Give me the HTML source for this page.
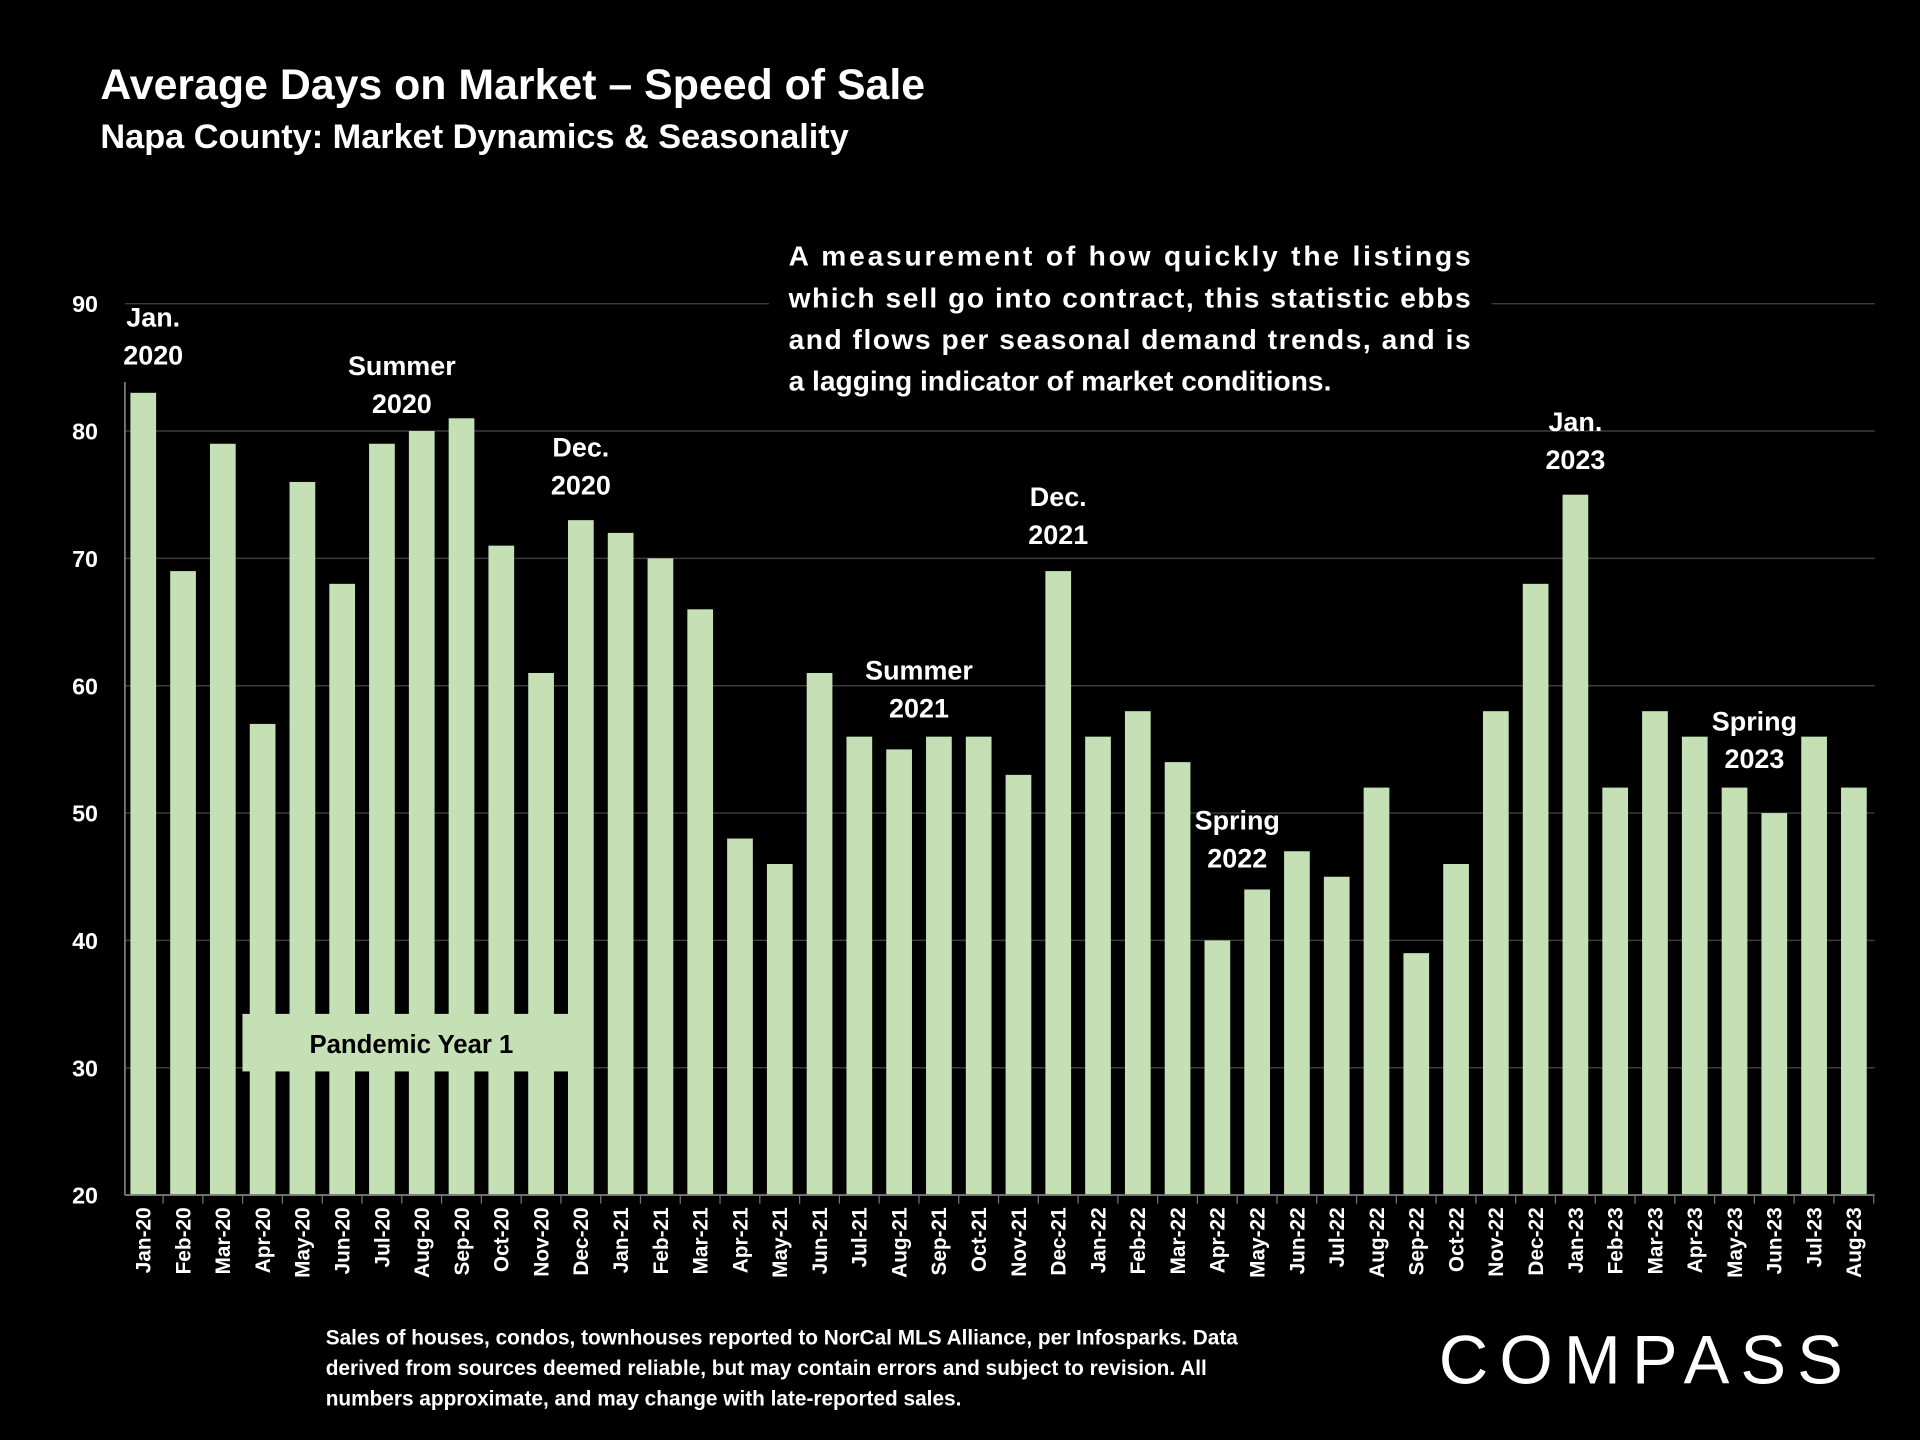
<!DOCTYPE html>
<html><head><meta charset="utf-8"><style>
html,body{margin:0;padding:0;background:#000;}
svg{display:block;}
text{font-family:"Liberation Sans",sans-serif;font-weight:bold;}
</style></head><body>
<svg id="chart" width="1920" height="1440" viewBox="0 0 1568 1176" xmlns="http://www.w3.org/2000/svg">
<rect width="1568" height="1176" fill="#000"/>
<text x="82" y="81" fill="#fff" font-size="35">Average Days on Market – Speed of Sale</text>
<text x="82" y="121" fill="#fff" font-size="28">Napa County: Market Dynamics &amp; Seasonality</text>
<g id="grid"></g>
<g id="yaxis"></g>
<g id="bars"></g>
<g id="xaxis"></g>
<g fill="#fff" font-size="23">
<rect x="628" y="190" width="590" height="140" fill="#000"/>
<text x="644" y="217" textLength="557" lengthAdjust="spacing">A measurement of how quickly the listings</text>
<text x="644" y="251" textLength="557" lengthAdjust="spacing">which sell go into contract, this statistic ebbs</text>
<text x="644" y="285" textLength="557" lengthAdjust="spacing">and flows per seasonal demand trends, and is</text>
<text x="644" y="319">a lagging indicator of market conditions.</text>
</g>
<g id="annos" fill="#fff" font-size="22" text-anchor="middle"></g>
<g>
<rect x="198" y="828" width="268" height="47" fill="#c5e0b4"/>
<text x="336" y="860" fill="#000" font-size="21" text-anchor="middle">Pandemic Year 1</text>
</g>
<g fill="#fff" font-size="17">
<text x="266" y="1098">Sales of houses, condos, townhouses reported to NorCal MLS Alliance, per Infosparks. Data</text>
<text x="266" y="1123">derived from sources deemed reliable, but may contain errors and subject to revision. All</text>
<text x="266" y="1148">numbers approximate, and may change with late-reported sales.</text>
</g>
<text x="1175" y="1130" fill="#fff" font-size="56" textLength="330" lengthAdjust="spacing" style="font-weight:normal">COMPASS</text>
<script>
const categories=["Jan-20","Feb-20","Mar-20","Apr-20","May-20","Jun-20","Jul-20","Aug-20","Sep-20","Oct-20","Nov-20","Dec-20","Jan-21","Feb-21","Mar-21","Apr-21","May-21","Jun-21","Jul-21","Aug-21","Sep-21","Oct-21","Nov-21","Dec-21","Jan-22","Feb-22","Mar-22","Apr-22","May-22","Jun-22","Jul-22","Aug-22","Sep-22","Oct-22","Nov-22","Dec-22","Jan-23","Feb-23","Mar-23","Apr-23","May-23","Jun-23","Jul-23","Aug-23"];
const values=[83,69,79,57,76,68,79,80,81,71,61,73,72,70,66,48,46,61,56,55,56,56,53,69,56,58,54,40,44,47,45,52,39,46,58,68,75,52,58,56,52,50,56,52];
const yTicks=[20,30,40,50,60,70,80,90];
const annotations=[["Jan.","2020",0.25,88.2],["Summer","2020",6.5,84.4],["Dec.","2020",11,78.0],["Dec.","2021",23,74.1],["Summer","2021",19.5,60.5],["Spring","2022",27.5,48.7],["Jan.","2023",36,80.0],["Spring","2023",40.5,56.5]];
const NS="http://www.w3.org/2000/svg";
const y=v=>976-(v-20)*10.4;
const x=i=>117+i*(1397/43);
function mk(t,a,p){const e=document.createElementNS(NS,t);for(const k in a)e.setAttribute(k,a[k]);p.appendChild(e);return e;}
const grid=document.getElementById('grid'),ya=document.getElementById('yaxis'),bars=document.getElementById('bars'),xa=document.getElementById('xaxis'),an=document.getElementById('annos');
yTicks.forEach(t=>{
 if(t>20){const l=mk('line',{x1:102,x2:1531,y1:y(t),y2:y(t),stroke:'#3c3c3c','stroke-width':1.2},grid);
 
 }
 const tx=mk('text',{x:80,y:y(t)+7,fill:'#fff','font-size':19,'text-anchor':'end'},ya);tx.textContent=t;
 
 
});
mk('line',{x1:102,x2:1531,y1:976,y2:976,stroke:'#777','stroke-width':1.5},xa);
mk('line',{x1:102,x2:102,y1:312,y2:976,stroke:'#777','stroke-width':1.5},xa);
values.forEach((v,i)=>{
 const r=mk('rect',{x:x(i)-10.5,y:y(v),width:21,height:976-y(v),fill:'#c5e0b4'},bars);
 
 
 mk('line',{x1:x(i)+16.2,x2:x(i)+16.2,y1:976,y2:983,stroke:'#777'},xa);
 const t=mk('text',{transform:`translate(${x(i)+6},986) rotate(-90)`,fill:'#fff','font-size':17,'text-anchor':'end'},xa);t.textContent=categories[i];
 
 
});
annotations.forEach(a=>{
 const g=mk('g',{},an);
 
 
 const cx=x(a[2]),ty=y(a[3]);
 if(a[1]==='2021'&&a[0]==='Dec.') mk('rect',{x:cx-58,y:ty-25,width:116,height:60,fill:'#000'},g);
 const t1=mk('text',{x:cx,y:ty},g);t1.textContent=a[0];
 const t2=mk('text',{x:cx,y:ty+31},g);t2.textContent=a[1];
});
</script>
</svg>
</body></html>
